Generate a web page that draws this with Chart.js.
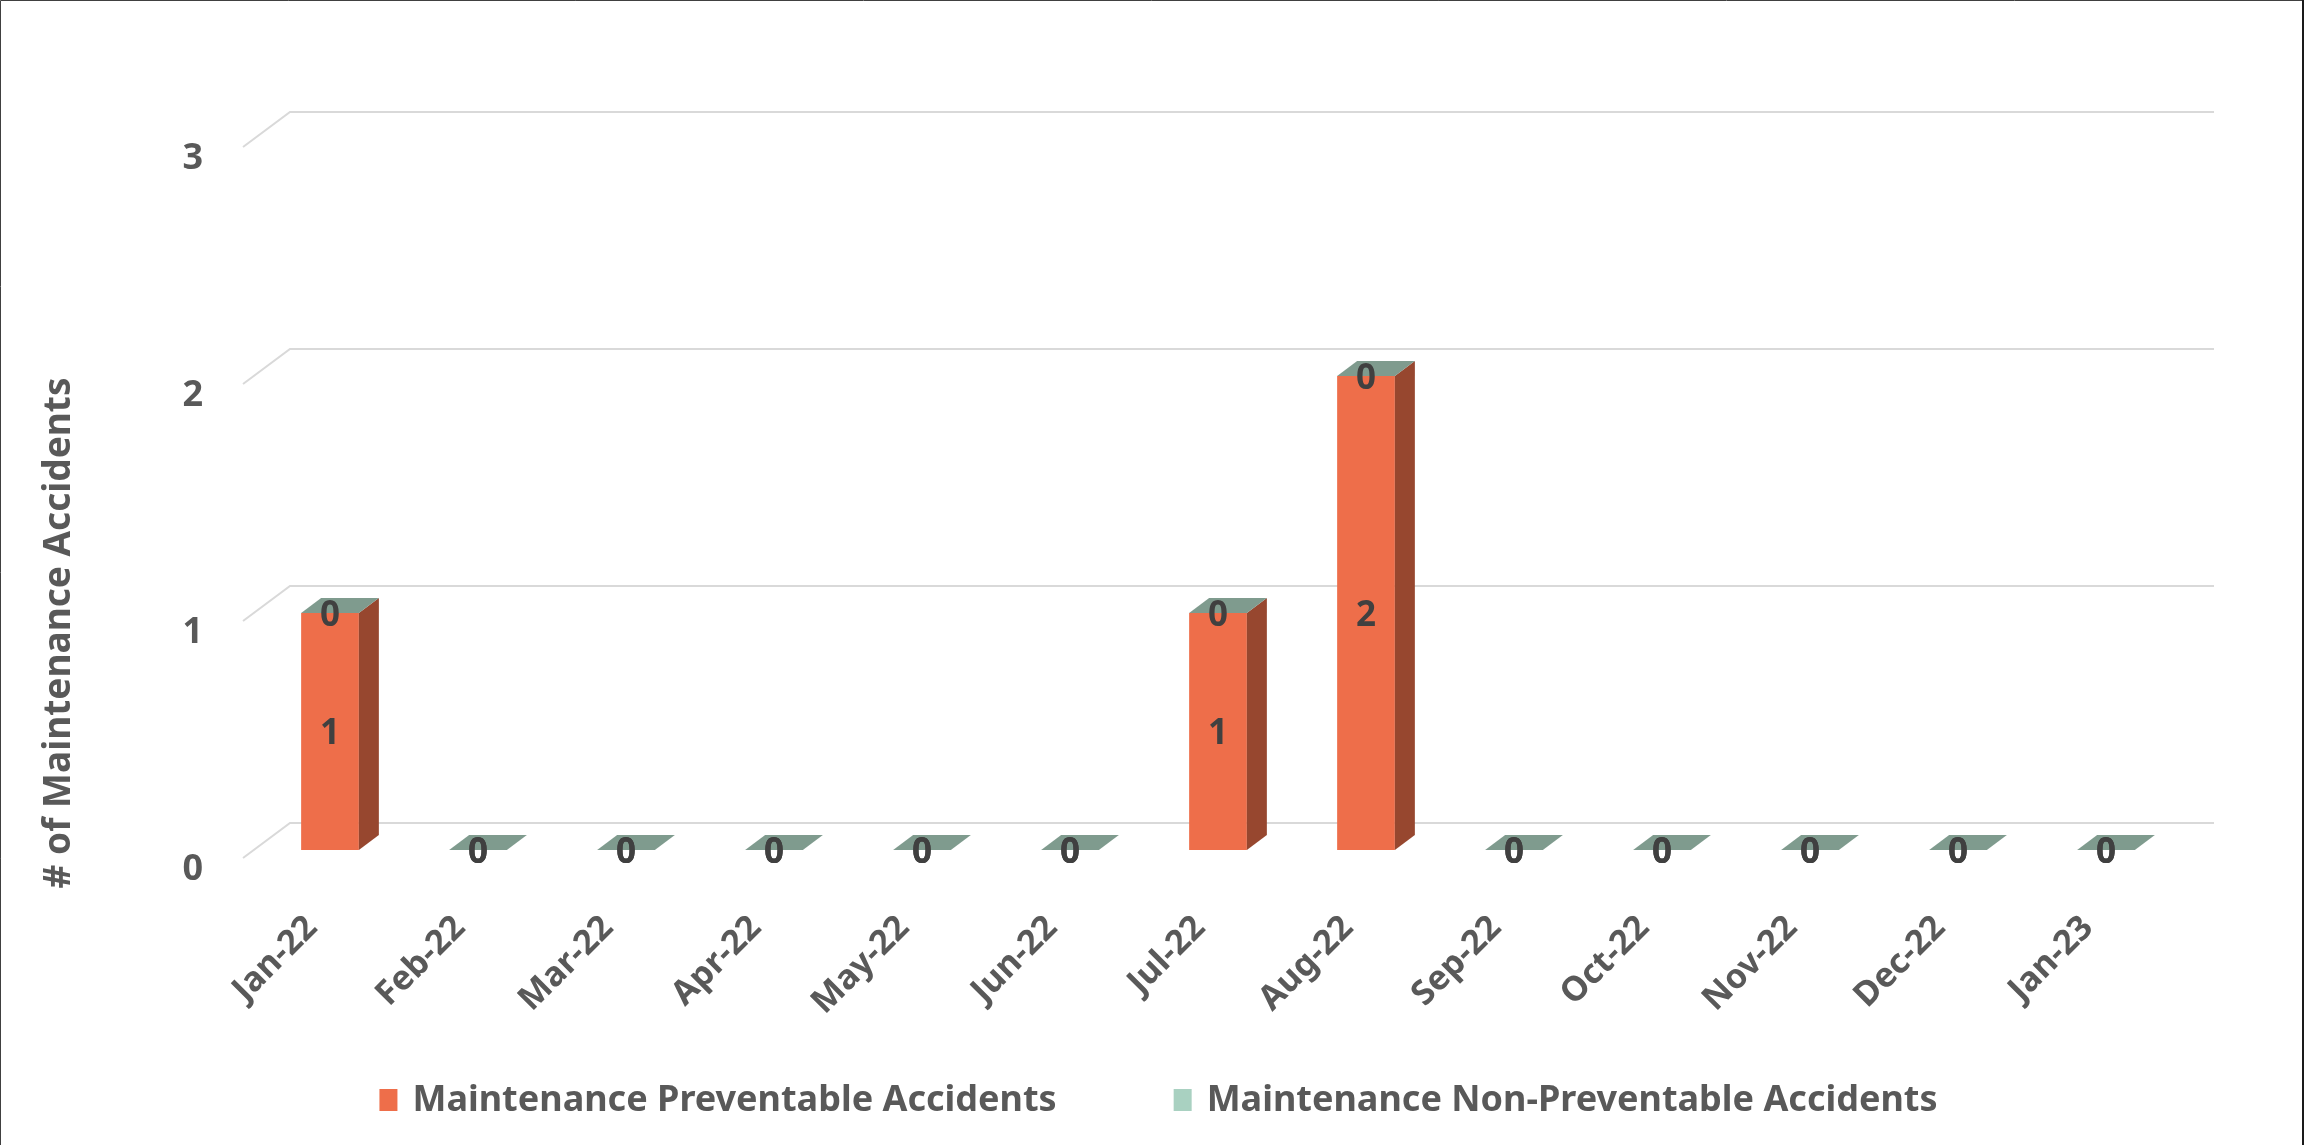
<!DOCTYPE html>
<html>
<head>
<meta charset="utf-8">
<script src="https://cdn.jsdelivr.net/npm/chart.js@4.4.1/dist/chart.umd.min.js"></script>
<style>
  html, body { margin: 0; padding: 0; background: #fff; }
  #wrap { width: 2305px; height: 1145px; }
</style>
</head>
<body>
<div id="wrap"><canvas id="accChart" width="2305" height="1145"></canvas></div>
<script>
const months = ['Jan-22', 'Feb-22', 'Mar-22', 'Apr-22', 'May-22', 'Jun-22', 'Jul-22',
  'Aug-22', 'Sep-22', 'Oct-22', 'Nov-22', 'Dec-22', 'Jan-23'];
const preventable = [1, 0, 0, 0, 0, 0, 1, 2, 0, 0, 0, 0, 0];
const nonPreventable = [0, 0, 0, 0, 0, 0, 0, 0, 0, 0, 0, 0, 0];
const yTicks = [0, 1, 2, 3];
const yTitle = '# of Maintenance Accidents';

const FONT = "'Noto Sans', 'DejaVu Sans', sans-serif";
const GREY = '#595959';

// fake 3d look, like the excel chart
const depth = { dx: 20, dy: -15 };
const wall = { dx: 34, dy: -27, fx: -13, fy: 8 };

const bar3d = {
    id: 'bar3d',
    beforeDraw(chart) {
        const { ctx, width, height } = chart;
        ctx.save();
        ctx.fillStyle = '#fff';
        ctx.fillRect(0, 0, width, height);
        ctx.strokeStyle = '#404040';
        ctx.lineWidth = 1;
        ctx.beginPath();
        ctx.moveTo(0.5, height);
        ctx.lineTo(0.5, 0.5);
        ctx.lineTo(width - 3, 0.5);
        ctx.stroke();
        ctx.strokeStyle = '#1a1a1a';
        ctx.lineWidth = 2;
        ctx.beginPath();
        ctx.moveTo(width - 2, 0);
        ctx.lineTo(width - 2, height);
        ctx.stroke();
        ctx.restore();
    },
    beforeDatasetsDraw(chart) {
        const { ctx, chartArea: a } = chart;
        const y = chart.scales.y;
        ctx.save();
        ctx.strokeStyle = '#d9d9d9';
        ctx.lineWidth = 2;
        y.ticks.forEach(t => {
            const py = y.getPixelForValue(t.value);
            ctx.beginPath();
            ctx.moveTo(a.left + wall.fx, py + wall.fy);
            ctx.lineTo(a.left + wall.dx, py + wall.dy);
            ctx.lineTo(a.right + wall.dx, py + wall.dy);
            ctx.stroke();
        });
        ctx.restore();
    },
    afterDatasetsDraw(chart) {
        const { ctx } = chart;
        const metas = chart.data.datasets.map((d, i) => chart.getDatasetMeta(i));
        ctx.save();
        months.forEach((m, i) => {
            // side faces
            metas.forEach((meta, di) => {
                const el = meta.data[i];
                const ds = chart.data.datasets[di];
                const half = el.width / 2;
                if (Math.abs(el.base - el.y) < 0.5) return;
                ctx.fillStyle = ds.sideColor;
                ctx.beginPath();
                ctx.moveTo(el.x + half, el.y);
                ctx.lineTo(el.x + half + depth.dx, el.y + depth.dy);
                ctx.lineTo(el.x + half + depth.dx, el.base + depth.dy);
                ctx.lineTo(el.x + half, el.base);
                ctx.closePath();
                ctx.fill();
            });
            // top face comes from the last dataset in the stack
            const topMeta = metas[metas.length - 1];
            const top = topMeta.data[i];
            const half = top.width / 2;
            ctx.fillStyle = chart.data.datasets[metas.length - 1].topColor;
            ctx.beginPath();
            ctx.moveTo(top.x - half, top.y);
            ctx.lineTo(top.x - half + depth.dx, top.y + depth.dy);
            ctx.lineTo(top.x + half + depth.dx, top.y + depth.dy);
            ctx.lineTo(top.x + half, top.y);
            ctx.closePath();
            ctx.fill();
        });

        // value labels
        ctx.font = 'bold 35px ' + FONT;
        ctx.fillStyle = '#404040';
        ctx.textAlign = 'center';
        ctx.textBaseline = 'middle';
        metas.forEach((meta, di) => {
            const vals = chart.data.datasets[di].data;
            meta.data.forEach((el, i) => {
                ctx.fillText(String(vals[i]), el.x, (el.y + el.base) / 2 + 3);
            });
        });
        ctx.restore();
    },
    afterDraw(chart) {
        const { ctx, width } = chart;

        // y title, excel centres it a bit lower than the plot area
        ctx.save();
        ctx.font = 'bold 37px ' + FONT;
        ctx.fillStyle = GREY;
        ctx.textAlign = 'center';
        ctx.textBaseline = 'middle';
        ctx.translate(59, 633);
        ctx.rotate(-Math.PI / 2);
        ctx.fillText(yTitle, 0, 0);
        ctx.restore();

        // legend: the built-in one can't keep the wide gap without eating the axis room
        const box = { w: 18, h: 22, gap: 15 };
        const itemGap = 117;
        ctx.save();
        ctx.font = 'bold 36px ' + FONT;
        ctx.textBaseline = 'middle';
        ctx.textAlign = 'left';
        const items = chart.data.datasets.map(ds => ({
            text: ds.label,
            color: ds.backgroundColor,
            w: box.w + box.gap + ctx.measureText(ds.label).width
        }));
        const total = items.reduce((s, it) => s + it.w, 0) + itemGap * (items.length - 1);
        let x = width / 2 + 6 - total / 2;
        const cy = 1100;
        items.forEach(it => {
            ctx.fillStyle = it.color;
            ctx.fillRect(x, cy - box.h / 2, box.w, box.h);
            ctx.fillStyle = GREY;
            ctx.fillText(it.text, x + box.w + box.gap, cy + 1);
            x += it.w + itemGap;
        });
        ctx.restore();
    }
};

document.addEventListener('DOMContentLoaded', function () {
    const ctx = document.getElementById('accChart').getContext('2d');
    const accChart = new Chart(ctx, {
        type: 'bar',
        data: {
            labels: months,
            datasets: [{
                label: 'Maintenance Preventable Accidents',
                data: preventable,
                backgroundColor: '#EE6E4A',
                sideColor: '#97472F',
                topColor: '#7F9B8E',
                borderWidth: 0
            }, {
                label: 'Maintenance Non-Preventable Accidents',
                data: nonPreventable,
                backgroundColor: '#A9D1C1',
                sideColor: '#6f8f82',
                topColor: '#7F9B8E',
                borderWidth: 0
            }]
        },
        options: {
            responsive: false,
            animation: false,
            categoryPercentage: 1,
            barPercentage: 0.39,
            layout: {
                padding: { top: 139, left: 0, right: 0, bottom: 0 }
            },
            plugins: {
                tooltip: { enabled: false },
                legend: { display: false }
            },
            scales: {
                x: {
                    stacked: true,
                    grid: { display: false },
                    border: { display: false },
                    ticks: {
                        color: GREY,
                        minRotation: 45,
                        maxRotation: 45,
                        padding: 50,
                        labelOffset: -18,
                        font: { family: FONT, size: 34, weight: 'bold' }
                    },
                    afterFit: function (scale) { scale.height = 295; }
                },
                y: {
                    stacked: true,
                    min: 0,
                    max: 3,
                    grid: { display: false, drawTicks: false },
                    border: { display: false },
                    afterBuildTicks: function (scale) {
                        scale.ticks = yTicks.map(v => ({ value: v }));
                    },
                    ticks: {
                        color: GREY,
                        padding: 53,
                        labelOffset: 20,
                        font: { family: FONT, size: 36, weight: 'bold' }
                    },
                    afterFit: function (scale) { scale.width = 256; }
                },
                // empty axis only to keep room on the right like the original
                yRight: {
                    position: 'right',
                    display: true,
                    grid: { display: false, drawTicks: false },
                    border: { display: false },
                    ticks: { display: false },
                    afterFit: function (scale) { scale.width = 125; }
                }
            }
        },
        plugins: [bar3d]
    });
});
</script>
</body>
</html>
